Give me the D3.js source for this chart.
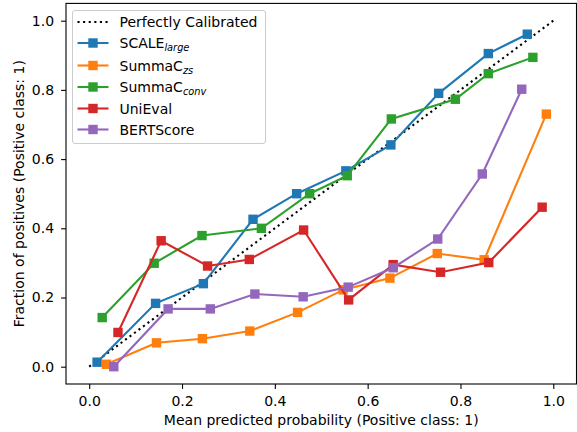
<!DOCTYPE html>
<html>
<head>
<meta charset="utf-8">
<script src="https://cdn.jsdelivr.net/npm/d3@7"></script>
<style>
  body { margin: 0; background: #fff; }
  svg { display: block; font-family: "DejaVu Sans", sans-serif; }
</style>
</head>
<body>
<svg id="chart" width="577" height="432"></svg>
<script>
var width = 577;
var height = 432;
var margin = { top: 3.4, right: 0.5, bottom: 48, left: 66 };
var fontSize = '14px';

// data
var scaleX = [0.017, 0.143, 0.246, 0.353, 0.447, 0.553, 0.650, 0.753, 0.860, 0.944];
var scaleY = [0.013, 0.183, 0.240, 0.426, 0.500, 0.566, 0.641, 0.790, 0.905, 0.961];
var zsX = [0.037, 0.145, 0.244, 0.346, 0.449, 0.547, 0.648, 0.750, 0.851, 0.985];
var zsY = [0.007, 0.069, 0.081, 0.103, 0.157, 0.222, 0.256, 0.327, 0.309, 0.730];
var convX = [0.028, 0.140, 0.243, 0.371, 0.475, 0.556, 0.651, 0.789, 0.860, 0.956];
var convY = [0.142, 0.299, 0.379, 0.400, 0.500, 0.552, 0.716, 0.773, 0.847, 0.894];
var uniX = [0.062, 0.155, 0.255, 0.345, 0.462, 0.559, 0.655, 0.757, 0.861, 0.976];
var uniY = [0.099, 0.364, 0.291, 0.310, 0.395, 0.193, 0.295, 0.273, 0.301, 0.461];
var bertX = [0.053, 0.170, 0.261, 0.357, 0.461, 0.558, 0.655, 0.751, 0.847, 0.932];
var bertY = [0.000, 0.167, 0.167, 0.210, 0.202, 0.230, 0.286, 0.369, 0.557, 0.802];

var ticks = [0, 0.2, 0.4, 0.6, 0.8, 1.0];

var series = [
  { name: 'SCALE', sub: 'large', color: '#1f77b4', xs: scaleX, ys: scaleY },
  { name: 'SummaC', sub: 'zs', color: '#ff7f0e', xs: zsX, ys: zsY },
  { name: 'SummaC', sub: 'conv', color: '#2ca02c', xs: convX, ys: convY },
  { name: 'UniEval', sub: null, color: '#d62728', xs: uniX, ys: uniY },
  { name: 'BERTScore', sub: null, color: '#9467bd', xs: bertX, ys: bertY }
];

var svg = d3.select('#chart');

var x = d3.scaleLinear()
  .domain([-0.05, 1.05])
  .range([margin.left, width - margin.right]);

var y = d3.scaleLinear()
  .domain([-0.05, 1.05])
  .range([height - margin.bottom, margin.top]);

var lw = 2.1;
var dots = '2.1,3.5';
var ms = 9.4;

var plot = svg.append('g');

// perfectly calibrated diagonal
plot.append('line')
  .attr('x1', x(0)).attr('y1', y(0))
  .attr('x2', x(1)).attr('y2', y(1))
  .attr('stroke', '#000')
  .attr('stroke-width', lw)
  .attr('stroke-dasharray', dots);

var line = d3.line()
  .x(function(d) { return x(d[0]); })
  .y(function(d) { return y(d[1]); });

series.forEach(function(s) {
  var pts = d3.zip(s.xs, s.ys);
  plot.append('path')
    .datum(pts)
    .attr('d', line)
    .attr('fill', 'none')
    .attr('stroke', s.color)
    .attr('stroke-width', lw);
  plot.selectAll(null)
    .data(pts)
    .enter().append('rect')
    .attr('x', function(d) { return x(d[0]) - ms / 2; })
    .attr('y', function(d) { return y(d[1]) - ms / 2; })
    .attr('width', ms)
    .attr('height', ms)
    .attr('fill', s.color);
});

/// Axes
svg.append('g')
  .attr('transform', 'translate(0,' + (height - margin.bottom) + ')')
  .call(d3.axisBottom(x).tickValues(ticks).tickFormat(d3.format('.1f')).tickSizeInner(4.9).tickSizeOuter(0).tickPadding(7));

svg.append('g')
  .attr('transform', 'translate(' + margin.left + ',0)')
  .call(d3.axisLeft(y).tickValues(ticks).tickFormat(d3.format('.1f')).tickSizeInner(4.9).tickSizeOuter(0).tickPadding(7));

svg.selectAll('.domain').remove();
svg.selectAll('.tick line').attr('stroke', '#000').attr('stroke-width', 1.1);
svg.selectAll('.tick text')
  .attr('font-size', fontSize)
  .attr('font-family', 'DejaVu Sans')
  .attr('fill', '#000');

// frame
svg.append('rect')
  .attr('x', margin.left)
  .attr('y', margin.top)
  .attr('width', width - margin.left - margin.right)
  .attr('height', height - margin.top - margin.bottom)
  .attr('fill', 'none')
  .attr('stroke', '#000')
  .attr('stroke-width', 1.1);

svg.append('text')
  .attr('x', (margin.left + width - margin.right) / 2)
  .attr('y', 425)
  .attr('text-anchor', 'middle')
  .attr('font-size', fontSize)
  .text('Mean predicted probability (Positive class: 1)');

svg.append('text')
  .attr('transform', 'translate(24,' + ((margin.top + height - margin.bottom) / 2) + ') rotate(-90)')
  .attr('text-anchor', 'middle')
  .attr('font-size', fontSize)
  .text('Fraction of positives (Positive class: 1)');

/// Legend
var legend = svg.append('g');
legend.append('rect')
  .attr('x', 72.5).attr('y', 10.5)
  .attr('width', 193).attr('height', 133)
  .attr('rx', 2.5)
  .attr('fill', '#fff').attr('fill-opacity', 0.8)
  .attr('stroke', '#cccccc').attr('stroke-width', 1);

var rowY = [22, 43, 65.5, 87, 108.5, 129.5];

legend.append('line')
  .attr('x1', 77.5).attr('x2', 108.5)
  .attr('y1', rowY[0]).attr('y2', rowY[0])
  .attr('stroke', '#000').attr('stroke-width', lw)
  .attr('stroke-dasharray', dots);
legend.append('text')
  .attr('x', 119.5).attr('y', rowY[0] + 5.2)
  .attr('font-size', fontSize)
  .text('Perfectly Calibrated');

series.forEach(function(s, i) {
  var ry = rowY[i + 1];
  legend.append('line')
    .attr('x1', 77.5).attr('x2', 108.5)
    .attr('y1', ry).attr('y2', ry)
    .attr('stroke', s.color).attr('stroke-width', lw);
  legend.append('rect')
    .attr('x', 93 - ms / 2).attr('y', ry - ms / 2)
    .attr('width', ms).attr('height', ms)
    .attr('fill', s.color);
  var t = legend.append('text')
    .attr('x', 119.5).attr('y', ry + 5.2)
    .attr('font-size', fontSize);
  t.append('tspan').text(s.name);
  if (s.sub) {
    t.append('tspan')
      .attr('dy', 2.8)
      .attr('font-size', '9.8px')
      .attr('font-style', 'italic')
      .text(s.sub);
  }
});
</script>
</body>
</html>
